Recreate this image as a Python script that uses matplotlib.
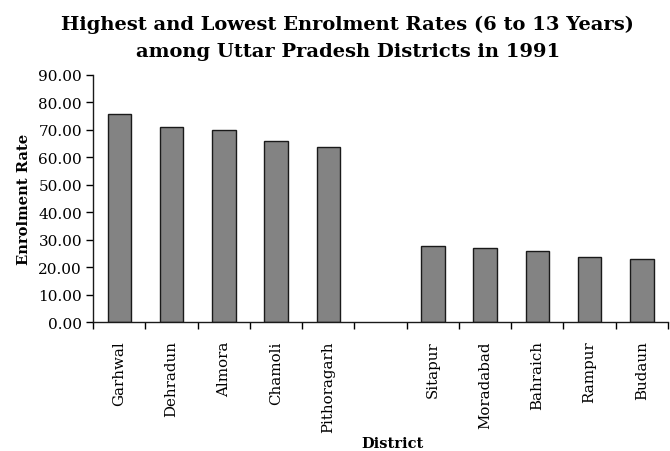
import numpy as np
import matplotlib
matplotlib.use("Agg")
import matplotlib.pyplot as plt
from matplotlib.ticker import FixedLocator, FormatStrFormatter

districts = ["Garhwal", "Dehradun", "Almora", "Chamoli", "Pithoragarh", "",
             "Sitapur", "Moradabad", "Bahraich", "Rampur", "Budaun"]
enrolment = [75.8, 71.2, 70.1, 66.0, 63.7, np.nan,
             27.9, 26.9, 26.0, 23.7, 23.1]
y_ticks = [0, 10, 20, 30, 40, 50, 60, 70, 80, 90]

plt.rcParams["font.family"] = ["DejaVu Serif"]

fig = plt.figure(figsize=(6.7, 4.52), dpi=100)
ax = fig.add_axes([0.139, 0.2847, 0.858, 0.5473])

x = np.arange(len(districts))
ax.bar(x, enrolment, width=0.45, color="#838383", edgecolor="#1a1a1a", linewidth=1.0)

ax.set_xlim(-0.5, len(districts) - 0.5)
ax.set_ylim(0, 90)
ax.yaxis.set_major_locator(FixedLocator(y_ticks))
ax.yaxis.set_major_formatter(FormatStrFormatter("%.2f"))

# labels sit at category centres, ticks at the boundaries between them
ax.set_xticks(x)
ax.set_xticklabels(districts, rotation=90, fontsize=10.8)
ax.set_xticks(np.arange(len(districts) + 1) - 0.5, minor=True)
ax.tick_params(axis="x", which="major", length=0, pad=13)
ax.tick_params(axis="x", which="minor", length=5, width=1, direction="out")
ax.tick_params(axis="y", length=5, width=1, direction="out", labelsize=11, pad=3)

for s in ("top", "right"):
    ax.spines[s].set_visible(False)
for s in ("left", "bottom"):
    ax.spines[s].set_linewidth(1.0)
    ax.spines[s].set_color("#1a1a1a")

ax.set_ylabel("Enrolment Rate", fontsize=10.6, fontweight="bold", labelpad=5)
ax.set_xlabel("District", fontsize=10.5, fontweight="bold")
ax.xaxis.set_label_coords(0.52, -0.46)

fig.text(0.519, 0.966, "Highest and Lowest Enrolment Rates (6 to 13 Years)\namong Uttar Pradesh Districts in 1991",
         ha="center", va="top", fontsize=14, fontweight="bold", linespacing=1.68)

fig.savefig("out.png", dpi=100)
